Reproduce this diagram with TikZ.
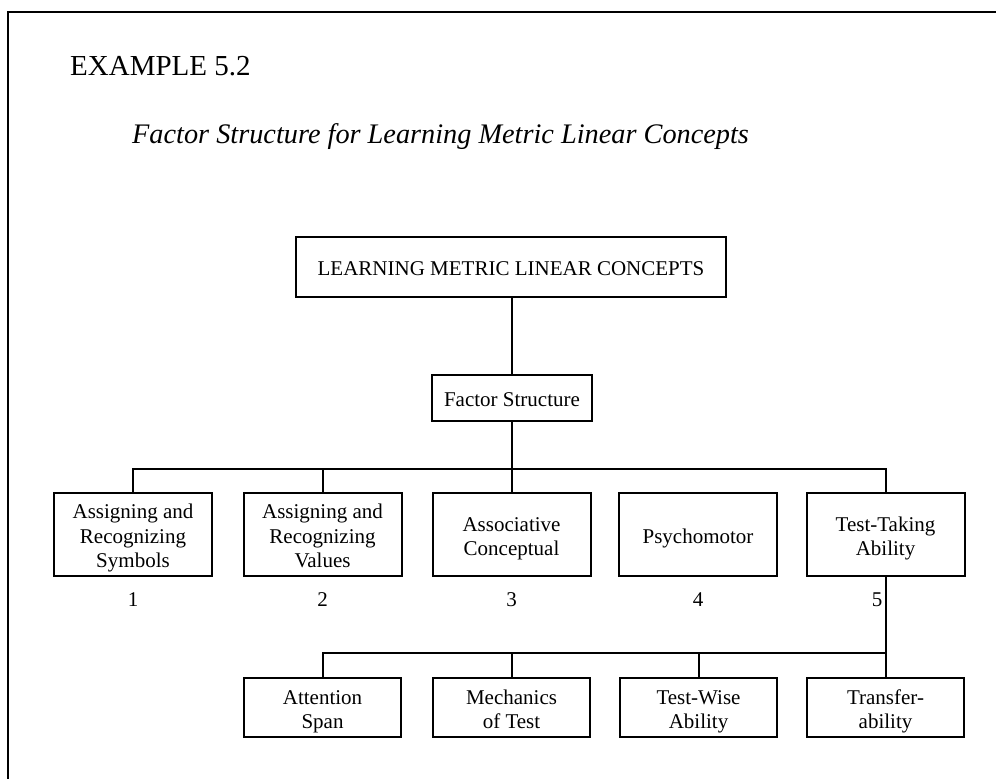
\documentclass[tikz,border=0pt]{standalone}
\usepackage{fontspec}
\setmainfont{Liberation Serif}
\newcommand\mlines[1]{\begin{tabular}[b]{@{}c@{}}\rule{0pt}{25pt}#1\end{tabular}}
\begin{document}
\begin{tikzpicture}[x=1pt,y=-1pt,
  box/.style={draw,line width=2pt,inner sep=0pt,
    font=\fontsize{21}{24.5}\selectfont,
    execute at begin node=\rule{0pt}{25pt}, execute at end node=\strut},
  rowone/.style={box,minimum width=158pt,minimum height=83pt},
  rowtwo/.style={box,minimum width=157pt,minimum height=59pt},
  num/.style={font=\fontsize{21}{24.5}\selectfont,inner sep=0pt},
  conn/.style={line width=2pt},
  heading/.style={font=\fontsize{29}{32}\selectfont,inner sep=0pt}]
\useasboundingbox (0,0) rectangle (996,779);
% frame
\draw[line width=2.2pt] (8,779) -- (8,12) -- (996,12);
% headings
\node[heading,anchor=base west] (title) at (70,75) {EXAMPLE 5.2};
\node[heading,anchor=base west,font=\fontsize{28.3}{32}\selectfont] (sub) at (132,143) {\itshape Factor Structure for Learning Metric Linear Concepts};
% top nodes
\node[box,minimum width=430pt,minimum height=60pt] (top) at (511,266.5) {LEARNING METRIC LINEAR CONCEPTS};
\node[box,minimum width=160pt,minimum height=46pt] (fs) at (512,398) {Factor Structure};
% row one
\node[rowone] (f1) at (133,534.5) {\mlines{Assigning and\\Recognizing\\Symbols}};
\node[rowone] (f2) at (322.5,534.5) {\mlines{Assigning and\\Recognizing\\Values}};
\node[rowone] (f3) at (511.5,534.5) {\mlines{Associative\\Conceptual}};
\node[rowone] (f4) at (698,534.5) {Psychomotor};
\node[rowone] (f5) at (885.5,534.5) {\mlines{Test-Taking\\Ability}};
% numbers
\node[num] (n1) at (133,600) {1};
\node[num] (n2) at (322.5,600) {2};
\node[num] (n3) at (511.5,600) {3};
\node[num] (n4) at (698,600) {4};
\node[num] (n5) at (877,600) {5};
% row two
\node[rowtwo] (a) at (322.5,707.5) {\mlines{Attention\\Span}};
\node[rowtwo] (b) at (511.5,707.5) {\mlines{Mechanics\\of Test}};
\node[rowtwo] (c) at (698.5,707.5) {\mlines{Test-Wise\\Ability}};
\node[rowtwo] (d) at (885.5,707.5) {\mlines{Transfer-\\ability}};
% connectors
\coordinate (barone) at (0,469);
\coordinate (bartwo) at (0,653);
\draw[conn] (top.south -| fs.north) -- (fs.north);
\draw[conn] (fs.south) -- (fs.south |- f3.north);
\draw[conn] (f1.north) -- (f1.north |- barone) -- (f5.north |- barone) -- (f5.north);
\draw[conn] (f2.north) -- (f2.north |- barone);
\draw[conn] (f5.south) -- (f5.south |- bartwo);
\draw[conn] (a.north) -- (a.north |- bartwo) -- (d.north |- bartwo) -- (d.north);
\draw[conn] (b.north) -- (b.north |- bartwo);
\draw[conn] (c.north) -- (c.north |- bartwo);
\end{tikzpicture}
\end{document}
